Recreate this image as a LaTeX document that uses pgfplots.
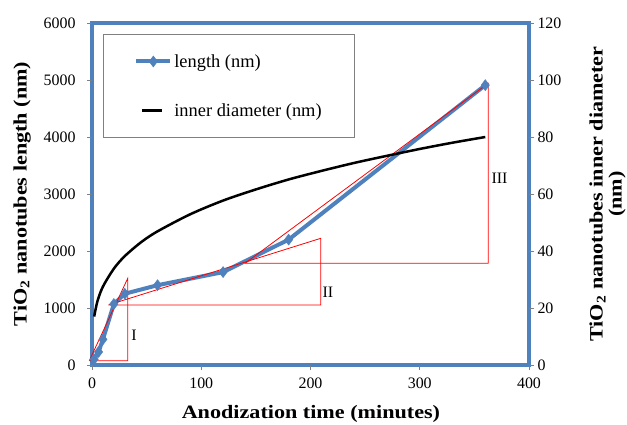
\documentclass[border=0pt]{standalone}
\usepackage{pgfplots}
\pgfplotsset{compat=1.18}
\usepackage{fontspec}
\setmainfont{Liberation Serif}

\definecolor{xlblue}{RGB}{79,129,189}
\definecolor{tickgray}{RGB}{128,128,128}

\newcommand{\wide}[1]{\scalebox{1.17}[1]{#1}}
\tikzset{lbl/.style={font=\fontsize{19}{19}\selectfont\bfseries}}

\begin{document}
\begin{tikzpicture}
\pgfplotsset{
  common/.style={
    scale only axis,
    width=437bp, height=342bp,
    xmin=0, xmax=400,
    xtick={0,100,...,400},
    tick align=outside,
    major tick length=5bp,
    tick style={tickgray, line width=0.6pt},
    ticklabel style={font=\fontsize{16}{18}\selectfont},
    /pgf/number format/assume math mode=true,
    /pgf/number format/1000 sep={},
    axis line style={draw=none},
    clip=false,
  },
}
\begin{axis}[
  common,
  name=ax,
  ymin=0, ymax=6000,
  ytick={0,1000,...,6000},
  xtick pos=left, ytick pos=left,
  axis background/.style={draw=xlblue, line width=4bp},
  xticklabel style={yshift=-4bp},
  yticklabel style={xshift=-8bp},
  xlabel={\wide{Anodization time (minutes)}},
  ylabel={\wide{TiO\textsubscript{2} nanotubes length (nm)}},
  every axis x label/.style={lbl, at={(axis description cs:0.501,-0.142)}, anchor=center},
  every axis y label/.style={lbl, at={(axis description cs:-0.16,0.5)}, anchor=center, rotate=90},
  legend style={
    at={(0.025,0.968)}, anchor=north west,
    draw=tickgray, line width=0.8pt,
    font=\fontsize{18.5}{21}\selectfont,
    inner xsep=31bp, inner ysep=18bp,
    row sep=31bp,
    legend cell align=left,
  },
  legend image code/.code={
    \draw[#1, mark repeat=2, mark phase=2]
      plot coordinates {(0bp,0bp) (17bp,0bp) (34bp,0bp)};
  },
]
  % length series
  \addplot[xlblue, line width=4bp, mark=diamond*, mark size=5.5pt,
           mark options={line width=0.5pt}]
    coordinates {
      (2,100)(6,230)(10,450)(20,1070)(30,1250)(60,1400)
      (120,1630)(180,2200)(360,4910)
    };
  \addlegendentry{length (nm)}
  \addlegendimage{legend image code/.code={
    \draw[black, line width=2.5bp] (6bp,0bp) -- (26bp,0bp);}}
  \addlegendentry{inner diameter (nm)}

  % red triangles (stages I, II, III)
  \addplot[red, line width=0.8pt, forget plot]
    coordinates {(-2.5,75)(32.7,75)(32.7,1520)(-2.5,75)};
  \addplot[red, line width=0.8pt, forget plot]
    coordinates {(15,1053)(209.3,1053)(209.3,2222)(15,1053)};
  \addplot[red, line width=0.8pt, forget plot]
    coordinates {(140,1784)(362.7,1784)(362.7,4942)(140,1784)};

  \node[font=\fontsize{16}{18}\selectfont] at (axis cs:38.5,530) {I};
  \node[font=\fontsize{16}{18}\selectfont] at (axis cs:216,1275) {II};
  \node[font=\fontsize{16}{18}\selectfont] at (axis cs:373,3275) {III};
\end{axis}

\begin{axis}[
  common,
  ymin=0, ymax=120,
  ytick={0,20,...,120},
  axis x line=none,
  axis y line*=right,
  ylabel={\wide{TiO\textsubscript{2} nanotubes inner diameter}\\\wide{(nm)}},
  every axis y label/.style={lbl, at={(axis description cs:1.18,0.5)}, anchor=center,
    rotate=90, align=center},
]
  % inner diameter
  \addplot[black, line width=2.5bp, smooth]
    coordinates {
      (2,17.0)(5,22.4)(10,27.5)(20,33.8)(30,38.2)(45,43.1)(60,46.9)
      (90,52.9)(120,57.7)(150,61.6)(180,65.1)(210,68.1)(240,70.9)
      (270,73.4)(300,75.8)(330,78.0)(360,80.0)
    };
\end{axis}

\pgfresetboundingbox
\path (-92bp,-60bp) rectangle (535bp,365bp);
\end{tikzpicture}
\end{document}
